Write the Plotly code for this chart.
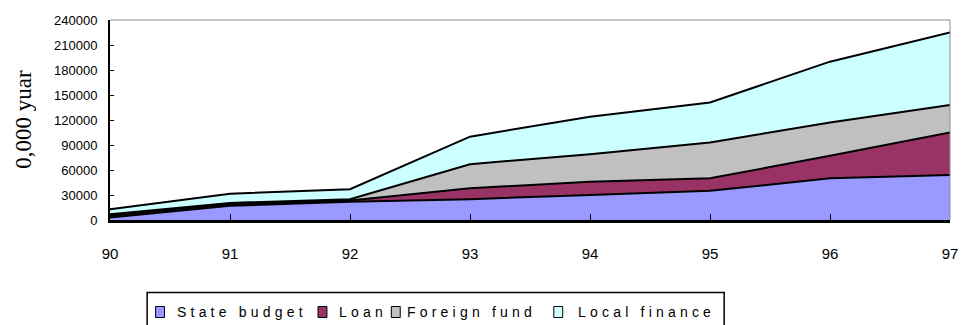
import plotly.graph_objects as go

# Investment by source of funds, 1990-1997 (unit: 0,000 yuan)
years = ["90", "91", "92", "93", "94", "95", "96", "97"]
state_budget = [3000, 17000, 22000, 25000, 30000, 35000, 50000, 54000]
loan = [2000, 2000, 1500, 13000, 16000, 15000, 27000, 51000]
foreign_fund = [2000, 1500, 1500, 29000, 33000, 43000, 40000, 33000]
local_finance = [6000, 11000, 12000, 33000, 45000, 48000, 73000, 87000]

y_ticks = [0, 30000, 60000, 90000, 120000, 150000, 180000, 210000, 240000]

series = [
    ("State budget", state_budget, "#9999FF"),
    ("Loan", loan, "#993366"),
    ("Foreign fund", foreign_fund, "#C0C0C0"),
    ("Local finance", local_finance, "#CCFFFF"),
]

W, H = 966, 325
L, R, T, B = 110, 8, 20, 105
PW, PH = W - L - R, H - T - B


def px(x):
    return (x - L) / PW


def py(y):
    return (H - B - y) / PH


fig = go.Figure()
for name, vals, color in series:
    fig.add_trace(go.Scatter(
        x=years, y=vals, name=name, mode="lines",
        stackgroup="one", fillcolor=color,
        line=dict(color="black", width=2),
        showlegend=False,
    ))

shapes = [
    # plot-area frame (top and right edges)
    dict(type="line", xref="paper", yref="paper", x0=0, x1=1, y0=1, y1=1,
         line=dict(color="#8c8c8c", width=1)),
    dict(type="line", xref="paper", yref="paper", x0=1, x1=1, y0=0, y1=1,
         line=dict(color="#8c8c8c", width=1)),
    # legend box
    dict(type="rect", xref="paper", yref="paper",
         x0=px(147.5), x1=px(730), y0=py(292.5), y1=py(340),
         line=dict(color="black", width=1.5), fillcolor="rgba(0,0,0,0)"),
]

annotations = [
    dict(text="0,000 yuar", textangle=-90, xref="paper", yref="paper",
         x=px(22), y=py(119), xanchor="center", yanchor="middle",
         showarrow=False,
         font=dict(family="Liberation Serif, Times New Roman, serif",
                   size=23, color="black")),
]

swatch_left = [156, 320, 394, 558]
text_left = [176, 339, 408, 580]
sw_top, sw_bot = 306.5, 317.5
for (name, _, color), sx, tx in zip(series, swatch_left, text_left):
    shapes.append(dict(type="rect", xref="paper", yref="paper",
                       x0=px(sx), x1=px(sx + 9), y0=py(sw_bot), y1=py(sw_top),
                       line=dict(color="black", width=1), fillcolor=color))
    annotations.append(dict(
        text="<span style='letter-spacing:4.2px'>" + name + "</span>",
        xref="paper", yref="paper", x=px(tx), y=py(312),
        xanchor="left", yanchor="middle", showarrow=False,
        font=dict(family="Liberation Sans, Arial, sans-serif",
                  size=14, color="black"),
    ))

fig.update_layout(
    width=W, height=H,
    margin=dict(l=L, r=R, t=T, b=B),
    paper_bgcolor="white", plot_bgcolor="white",
    showlegend=False,
    shapes=shapes, annotations=annotations,
    font=dict(family="Liberation Sans, Arial, sans-serif", color="black"),
)
fig.update_xaxes(
    type="category", range=[0, 7],
    showgrid=False, zeroline=False,
    showline=True, linecolor="black", linewidth=2.5,
    ticks="inside", ticklen=6, tickwidth=1, tickcolor="black",
    ticklabelstandoff=18,
    tickfont=dict(size=15, family="Liberation Sans, Arial, sans-serif"),
)
fig.update_yaxes(
    range=[0, 240000], tickvals=y_ticks,
    ticktext=[str(v) for v in y_ticks],
    showgrid=False, zeroline=False,
    showline=True, linecolor="black", linewidth=2,
    ticks="inside", ticklen=4, tickwidth=1, tickcolor="black",
    ticklabelstandoff=8,
    tickfont=dict(size=13, family="Liberation Sans, Arial, sans-serif"),
)

fig.write_html("out.html")
